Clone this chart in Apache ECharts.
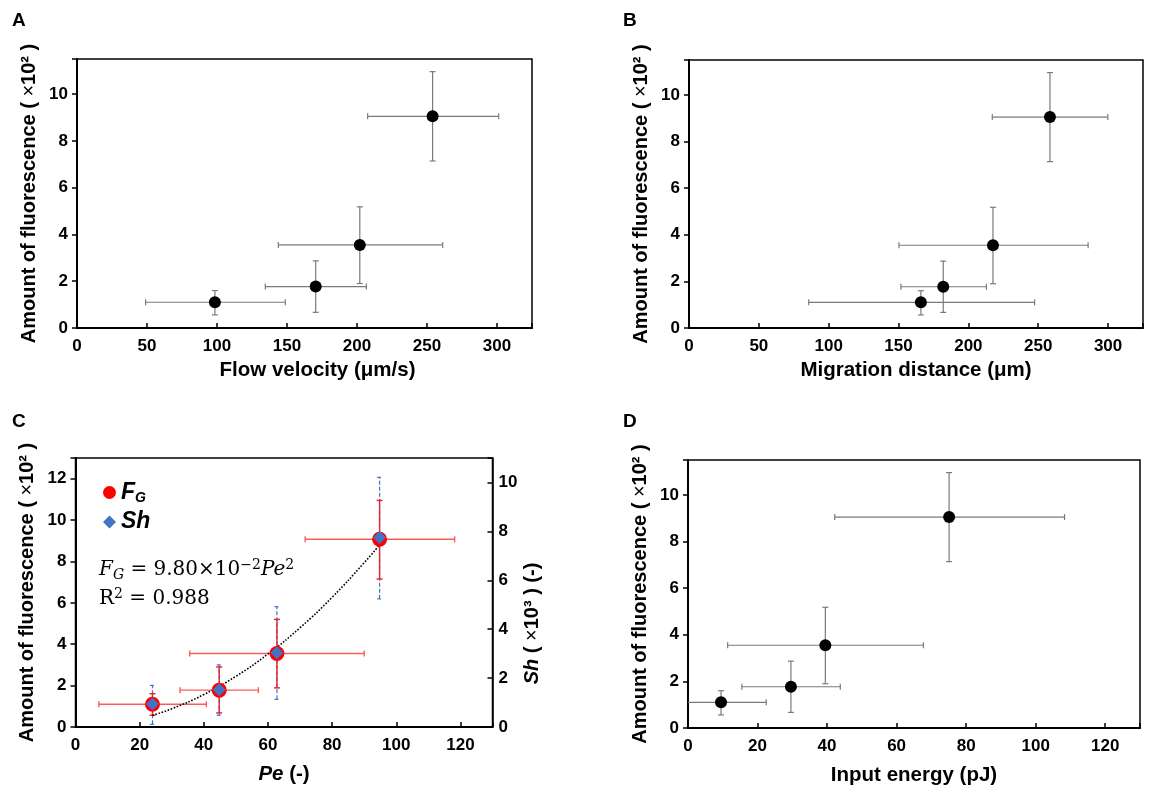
<!DOCTYPE html>
<html>
<head>
<meta charset="utf-8">
<script src="https://cdn.jsdelivr.net/npm/echarts@6/dist/echarts.min.js"></script>
<style>
html,body{margin:0;padding:0;background:#fff;}
#chart{width:1153px;height:787px;}
</style>
</head>
<body>
<div id="chart"></div>
<script>
// ---- Panel A: flow velocity ----
const velX     = [98.5, 170.5, 202, 254];
const velXLow  = [49, 134.5, 143.8, 207.6];
const velXHigh = [148.8, 206.7, 261.2, 301.2];

// ---- shared fluorescence (x10^2) ----
const fluor     = [1.1, 1.77, 3.55, 9.05];
const fluorLow  = [0.56, 0.67, 1.9, 7.14];
const fluorHigh = [1.6, 2.87, 5.18, 10.96];

// ---- Panel B: migration distance ----
const distX     = [166, 182, 217.6, 258.4];
const distXLow  = [85.7, 151.7, 150.3, 217.1];
const distXHigh = [247.4, 212.9, 285.7, 299.8];

// ---- Panel C: Pe, FG, Sh ----
const peX     = [24, 44.8, 62.8, 94.8];
const peXLow  = [7.3, 32.6, 35.6, 71.6];
const peXHigh = [40.8, 57.0, 90.0, 118.2];
const fgY     = [1.1, 1.78, 3.55, 9.07];
const fgLow   = [0.57, 0.68, 1.89, 7.15];
const fgHigh  = [1.61, 2.9, 5.2, 10.95];
const shY     = [0.94, 1.52, 3.04, 7.75];
const shLow   = [0.11, 0.48, 1.13, 5.24];
const shHigh  = [1.70, 2.54, 4.92, 10.21];
// fitted curve
const fitPe = [24, 30, 40, 50, 60, 70, 80, 90, 95];
const fitFG = [0.56, 0.88, 1.57, 2.45, 3.53, 4.80, 6.27, 7.94, 8.84];

// ---- Panel D: input energy ----
const energyX     = [9.5, 29.6, 39.5, 75.1];
const energyXLow  = [-3.5, 15.5, 11.4, 42.2];
const energyXHigh = [22.5, 43.8, 67.7, 108.3];

const FONT = 'Liberation Sans, Arial, sans-serif';

function rows(x, y, xl, xh, yl, yh) {
  return x.map((v, i) => [v, y[i], xl ? xl[i] : v, xh ? xh[i] : v, yl[i], yh[i]]);
}

function errRender(hColor, vColor, width, dash, doH, doV, cap) {
  return function (params, api) {
    const x = api.value(0), y = api.value(1);
    const ch = [];
    const hs = {stroke: hColor, lineWidth: width, lineDash: dash || null, fill: null};
    const vs = {stroke: vColor, lineWidth: width, lineDash: dash || null, fill: null};
    if (doH) {
      const l = api.coord([api.value(2), y]);
      const r = api.coord([api.value(3), y]);
      ch.push({type: 'line', shape: {x1: l[0], y1: l[1], x2: r[0], y2: r[1]}, style: hs});
      ch.push({type: 'line', shape: {x1: l[0], y1: l[1] - cap, x2: l[0], y2: l[1] + cap}, style: hs});
      ch.push({type: 'line', shape: {x1: r[0], y1: r[1] - cap, x2: r[0], y2: r[1] + cap}, style: hs});
    }
    if (doV) {
      const b = api.coord([x, api.value(4)]);
      const t = api.coord([x, api.value(5)]);
      ch.push({type: 'line', shape: {x1: b[0], y1: b[1], x2: t[0], y2: t[1]}, style: vs});
      ch.push({type: 'line', shape: {x1: b[0] - cap, y1: b[1], x2: b[0] + cap, y2: b[1]}, style: vs});
      ch.push({type: 'line', shape: {x1: t[0] - cap, y1: t[1], x2: t[0] + cap, y2: t[1]}, style: vs});
    }
    return {type: 'group', children: ch};
  };
}

const labelStyle = {color: '#000', fontWeight: 'bold', fontSize: 17, fontFamily: FONT};

function onlyInterval(step) {
  return function (v) {
    const r = v / step;
    return Math.abs(r - Math.round(r)) < 1e-6 ? String(v) : '';
  };
}

function xAx(grid, max, step, name, gap, pad) {
  return {
    type: 'value', gridIndex: grid, min: 0, max: max, interval: step,
    name: name, nameLocation: 'middle', nameGap: gap,
    nameTextStyle: {color: '#000', fontWeight: 'bold', fontSize: 20.5, fontFamily: FONT, padding: pad || 0,
      rich: {i: {fontStyle: 'italic', fontWeight: 'bold', fontSize: 20.5, fontFamily: FONT, color: '#000'},
             b: {fontWeight: 'bold', fontSize: 20.5, fontFamily: FONT, color: '#000'}}},
    axisLine: {show: true, onZero: false, lineStyle: {color: '#000', width: 2}},
    axisTick: {show: true, inside: true, length: 5, lineStyle: {color: '#000', width: 1.5}},
    axisLabel: Object.assign({margin: 10, formatter: onlyInterval(step)}, labelStyle),
    splitLine: {show: false}
  };
}

const fluorName = '{b|Amount of fluorescence ( }{n|×}{b|10² )}';
const nameRich = {
  b: {fontWeight: 'bold', fontSize: 20, fontFamily: FONT, color: '#000'},
  n: {fontWeight: 'normal', fontSize: 20, fontFamily: FONT, color: '#000'},
  i: {fontStyle: 'italic', fontWeight: 'bold', fontSize: 20, fontFamily: FONT, color: '#000'}
};

function yAx(grid, max, step, name, gap, opts) {
  opts = opts || {};
  const right = opts.position === 'right';
  return {
    type: 'value', gridIndex: grid, min: 0, max: max, interval: step,
    position: right ? 'right' : 'left',
    name: name, nameLocation: 'middle', nameGap: gap,
    nameTextStyle: {rich: nameRich, padding: opts.pad || 0},
    axisLine: {show: true, onZero: false, lineStyle: {color: '#000', width: right ? 1.5 : 2}},
    axisTick: {show: true, inside: right, length: 5, lineStyle: {color: '#000', width: 1.5}},
    axisLabel: Object.assign({margin: right ? 6 : 9, formatter: onlyInterval(step)}, labelStyle),
    splitLine: {show: false}
  };
}

const gridBase = {show: true, borderColor: '#000', borderWidth: 1.5, backgroundColor: '#fff'};

const chart = echarts.init(document.getElementById('chart'), null, {renderer: 'canvas'});

const GRAY = '#7a7a7a';

const option = {
  backgroundColor: '#fff',
  animation: false,
  grid: [
    Object.assign({left: 77, top: 59, width: 455, height: 269}, gridBase),
    Object.assign({left: 689, top: 60, width: 454, height: 268}, gridBase),
    Object.assign({left: 75.5, top: 458, width: 417, height: 269}, gridBase),
    Object.assign({left: 688, top: 460, width: 452, height: 268}, gridBase)
  ],
  xAxis: [
    xAx(0, 325, 50, 'Flow velocity (μm/s)', 32, [0, 0, 0, 26]),
    xAx(1, 325, 50, 'Migration distance (μm)', 32),
    xAx(2, 130, 20, '{i|Pe}{b| (-)}', 37),
    xAx(3, 130, 20, 'Input energy (pJ)', 37)
  ],
  yAxis: [
    yAx(0, 11.5, 2, fluorName, 38),
    yAx(1, 11.5, 2, fluorName, 38),
    yAx(2, 13, 2, fluorName, 38),
    yAx(2, 11, 2, '{i|Sh}{b| ( }{n|×}{b|10³ ) (-)}', 30, {position: 'right', pad: [0, 62, 0, 0]}),
    yAx(3, 11.5, 2, fluorName, 38)
  ],
  legend: {
    left: 98, top: 476, orient: 'vertical', itemGap: 5, itemWidth: 13, itemHeight: 13,
    selectedMode: false,
    data: [
      {name: 'FG', icon: 'circle', itemStyle: {color: '#ff0000', opacity: 1}},
      {name: 'Sh', icon: 'diamond', itemStyle: {color: '#4472c4', opacity: 1}}
    ],
    formatter: function (n) { return n === 'FG' ? '{a|F}{s|G}' : '{a|Sh}'; },
    textStyle: {
      rich: {
        a: {fontStyle: 'italic', fontWeight: 'bold', fontSize: 23, fontFamily: FONT, color: '#000'},
        s: {fontStyle: 'italic', fontWeight: 'bold', fontSize: 14, fontFamily: FONT, color: '#000', padding: [12, 0, 0, 0]}
      }
    }
  },
  graphic: [
    {type: 'text', left: 12, top: 11, style: {text: 'A', font: 'bold 19px ' + FONT, fill: '#000'}},
    {type: 'text', left: 623, top: 11, style: {text: 'B', font: 'bold 19px ' + FONT, fill: '#000'}},
    {type: 'text', left: 12, top: 412, style: {text: 'C', font: 'bold 19px ' + FONT, fill: '#000'}},
    {type: 'text', left: 623, top: 412, style: {text: 'D', font: 'bold 19px ' + FONT, fill: '#000'}},
    {type: 'text', left: 99, top: 558, z: 10, style: {
      text: '{i|F}{s|G}{n| = 9.80×10}{p|−2}{i|Pe}{p|2}\n{n|R}{p|2}{n| = 0.988}',
      rich: {
        i: {fontStyle: 'italic', fontSize: 20, fontFamily: 'DejaVu Serif', fill: '#000', lineHeight: 29},
        n: {fontSize: 20, fontFamily: 'DejaVu Serif', fill: '#000', lineHeight: 29},
        s: {fontStyle: 'italic', fontSize: 14, fontFamily: 'DejaVu Serif', fill: '#000', padding: [10, 0, 0, 0]},
        p: {fontSize: 14, fontFamily: 'DejaVu Serif', fill: '#000', padding: [0, 0, 10, 0]}
      }
    }}
  ],
  series: [
    // Panel A
    {type: 'custom', xAxisIndex: 0, yAxisIndex: 0, clip: true, z: 2,
     renderItem: errRender(GRAY, GRAY, 1.2, null, true, true, 3),
     data: rows(velX, fluor, velXLow, velXHigh, fluorLow, fluorHigh)},
    {type: 'scatter', xAxisIndex: 0, yAxisIndex: 0, symbol: 'circle', symbolSize: 12, z: 3,
     itemStyle: {color: '#000', opacity: 1}, data: velX.map((v, i) => [v, fluor[i]])},
    // Panel B
    {type: 'custom', xAxisIndex: 1, yAxisIndex: 1, clip: true, z: 2,
     renderItem: errRender(GRAY, GRAY, 1.2, null, true, true, 3),
     data: rows(distX, fluor, distXLow, distXHigh, fluorLow, fluorHigh)},
    {type: 'scatter', xAxisIndex: 1, yAxisIndex: 1, symbol: 'circle', symbolSize: 12, z: 3,
     itemStyle: {color: '#000', opacity: 1}, data: distX.map((v, i) => [v, fluor[i]])},
    // Panel C
    {type: 'custom', xAxisIndex: 2, yAxisIndex: 3, clip: true, z: 2,
     renderItem: errRender('#4472c4', '#4472c4', 1.2, [4, 2], false, true, 2.5),
     data: rows(peX, shY, null, null, shLow, shHigh)},
    {type: 'custom', xAxisIndex: 2, yAxisIndex: 2, clip: true, z: 3,
     renderItem: errRender('#ff5a5a', '#e8202a', 1.4, null, true, true, 3),
     data: rows(peX, fgY, peXLow, peXHigh, fgLow, fgHigh)},
    {type: 'line', name: 'fit', xAxisIndex: 2, yAxisIndex: 2, smooth: true, showSymbol: false, symbol: 'none', z: 4,
     lineStyle: {color: '#000', width: 1.6, type: 'dotted'}, data: fitPe.map((v, i) => [v, fitFG[i]])},
    {type: 'scatter', name: 'FG', xAxisIndex: 2, yAxisIndex: 2, symbol: 'circle', symbolSize: 15, z: 5,
     itemStyle: {color: '#ff0000', opacity: 1}, data: peX.map((v, i) => [v, fgY[i]])},
    {type: 'scatter', name: 'Sh', xAxisIndex: 2, yAxisIndex: 3, symbol: 'diamond', symbolSize: 13, z: 6,
     itemStyle: {color: '#4472c4', opacity: 1}, data: peX.map((v, i) => [v, shY[i]])},
    // Panel D
    {type: 'custom', xAxisIndex: 3, yAxisIndex: 4, clip: true, z: 2,
     renderItem: errRender(GRAY, GRAY, 1.2, null, true, true, 3),
     data: rows(energyX, fluor, energyXLow, energyXHigh, fluorLow, fluorHigh)},
    {type: 'scatter', xAxisIndex: 3, yAxisIndex: 4, symbol: 'circle', symbolSize: 12, z: 3,
     itemStyle: {color: '#000', opacity: 1}, data: energyX.map((v, i) => [v, fluor[i]])}
  ]
};
chart.setOption(option);
</script>
</body>
</html>
